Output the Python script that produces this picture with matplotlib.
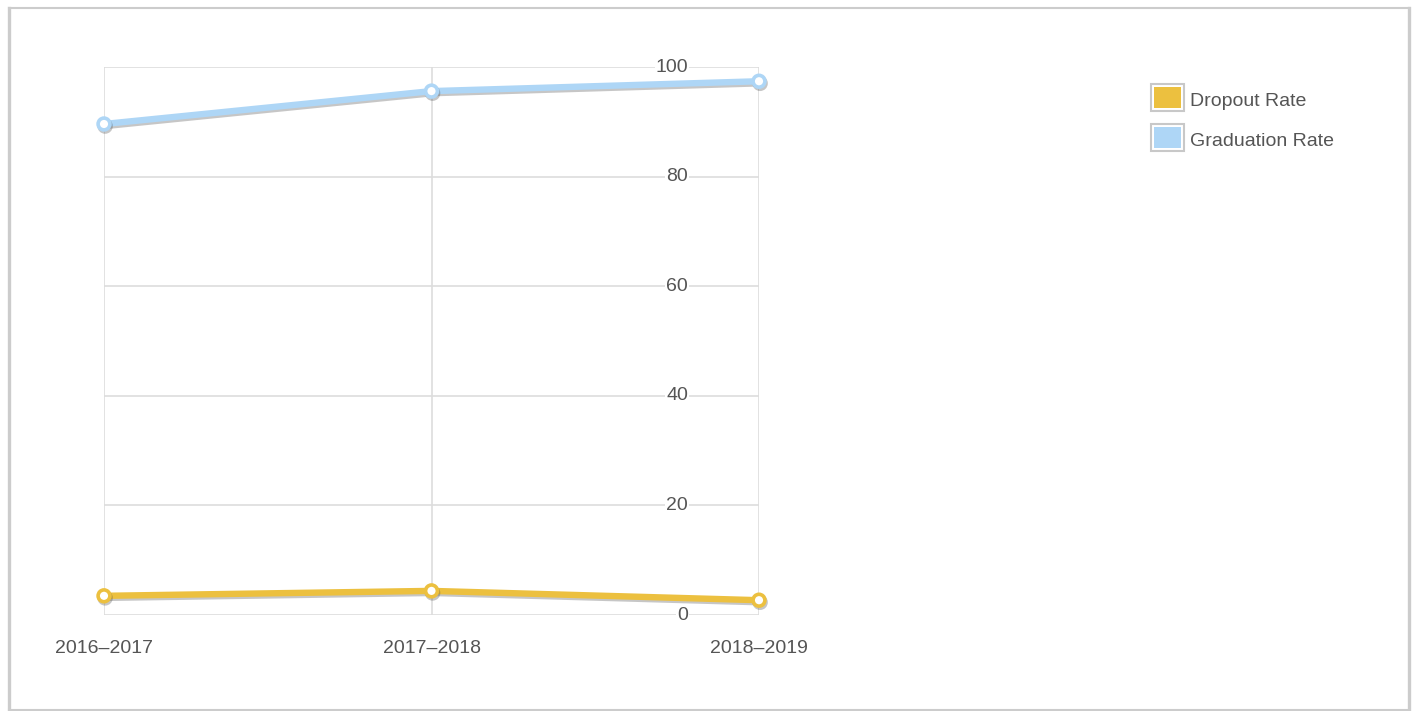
import matplotlib.pyplot as plt
import matplotlib.patheffects as pe
import matplotlib.transforms as mtransforms
from matplotlib.patches import Rectangle
from matplotlib.lines import Line2D

plt.rcParams['font.family'] = ['Liberation Sans', 'DejaVu Sans']

years = ['2016–2017', '2017–2018', '2018–2019']
dropout = [3.5, 4.4, 2.7]
graduation = [89.6, 95.6, 97.4]
series_names = ['Dropout Rate', 'Graduation Rate']
series_colors = ['#ecc03f', '#aed6f6']
yticks = [0, 20, 40, 60, 80, 100]

W, H = 1415, 711
fig = plt.figure(figsize=(W / 100, H / 100), dpi=100)
fig.patch.set_facecolor('white')


def px(x, y):
    # pixel position -> figure fraction
    return x / W, 1 - y / H


# outer frame
border = '#cccccc'
fig.add_artist(Line2D([px(9, 0)[0]] * 2, [0, px(0, 8)[1]], color=border, lw=2.4))
fig.add_artist(Line2D([px(1409, 0)[0]] * 2, [0, px(0, 8)[1]], color=border, lw=2.4))
fig.add_artist(Line2D([px(9, 0)[0], px(1409, 0)[0]], [px(0, 8)[1]] * 2, color=border, lw=1.5))
fig.add_artist(Line2D([px(9, 0)[0], px(1409, 0)[0]], [px(0, 709.5)[1]] * 2, color=border, lw=1.5))

left, right, top, bottom = 104, 759, 67, 615
ax = fig.add_axes([left / W, 1 - bottom / H, (right - left) / W, (bottom - top) / H])
ax.set_xlim(0, len(years) - 1)
ax.set_ylim(0, 100)
for s in ax.spines.values():
    s.set_visible(False)
ax.set_xticks(range(len(years)))
ax.set_yticks(yticks)
ax.grid(True, color='#dddddd', lw=1.2)
ax.tick_params(length=0)
ax.set_yticklabels([])
ax.set_xticklabels(years, fontsize=14, color='#555555')
ax.tick_params(axis='x', pad=18)

# y labels sit inside the plot, right-aligned near the right edge
ylab_tr = mtransforms.blended_transform_factory(fig.transFigure, ax.transData)
for v in yticks:
    ax.text(688 / W, v, str(v), transform=ylab_tr,
            ha='right', va='center', fontsize=14, color='#555555',
            bbox=dict(facecolor='white', edgecolor='none', pad=0.5), zorder=2)

shadow = [pe.SimpleLineShadow(offset=(0.8, -1.5), shadow_color='#444444', alpha=0.3),
          pe.Normal()]
for vals, color in zip([dropout, graduation], series_colors):
    ax.plot(range(len(years)), vals, color=color, lw=4.6, marker='o',
            markersize=8.5, markerfacecolor='white', markeredgecolor=color,
            markeredgewidth=2.6, clip_on=False, zorder=3,
            path_effects=shadow, solid_capstyle='round')

# legend
for i, (name, color) in enumerate(zip(series_names, series_colors)):
    y0 = 84 + i * 40
    x0, y1 = px(1151, y0 + 27)
    fig.add_artist(Rectangle((x0, y1), 33 / W, 27 / H, facecolor='white',
                             edgecolor='#c8c8c8', lw=1.5))
    x0, y1 = px(1154, y0 + 24)
    fig.add_artist(Rectangle((x0, y1), 27 / W, 21 / H, facecolor=color,
                             edgecolor='none'))
    tx, ty = px(1190, y0 + 17)
    fig.text(tx, ty, name, ha='left', va='center', fontsize=14, color='#555555')

fig.savefig('out.png', dpi=100)
